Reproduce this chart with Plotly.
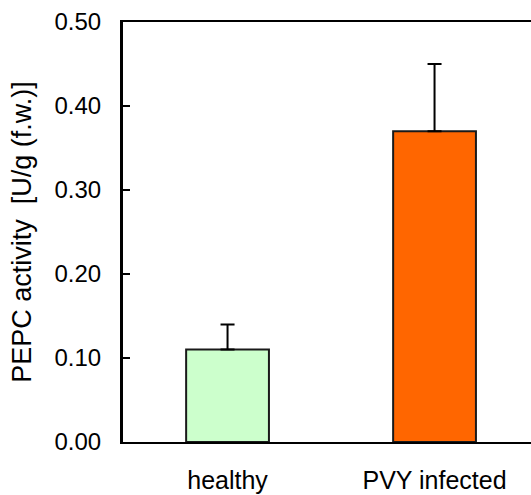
import plotly.graph_objects as go

# PEPC activity per leaf sample group
groups = ["healthy", "PVY infected"]
activity = [0.11, 0.37]
activity_err = [0.03, 0.08]
bar_colors = ["#CCFFCC", "#FF6600"]

y_ticks = [0.0, 0.1, 0.2, 0.3, 0.4, 0.5]
y_tick_text = ["0.00", "0.10", "0.20", "0.30", "0.40", "0.50"]

fig = go.Figure()
for name, val, err, col in zip(groups, activity, activity_err, bar_colors):
    fig.add_trace(go.Bar(
        x=[name], y=[val],
        width=0.4,
        marker=dict(color=col, line=dict(color="#1a1a1a", width=2)),
        error_y=dict(type="data", symmetric=False, array=[err], arrayminus=[0],
                     color="black", thickness=2, width=7),
        showlegend=False,
    ))

font_family = "Liberation Sans, Arial, sans-serif"

fig.update_layout(
    width=531, height=495,
    margin=dict(l=123, r=0, t=22, b=53),
    paper_bgcolor="white", plot_bgcolor="white",
    font=dict(family=font_family, color="black"),
    xaxis=dict(
        type="category",
        categoryorder="array", categoryarray=groups,
        range=[-0.505, 1.466],
        showline=True, linecolor="black", linewidth=2, mirror=True,
        ticks="", showgrid=False, zeroline=False,
        tickfont=dict(size=25, family=font_family),
        ticklabelstandoff=15,
    ),
    yaxis=dict(
        range=[0, 0.5],
        tickvals=y_ticks, ticktext=y_tick_text,
        ticks="inside", ticklen=7, tickwidth=2, tickcolor="black",
        showline=True, linecolor="black", linewidth=3,
        showgrid=False, zeroline=False,
        tickfont=dict(size=24, family=font_family),
        ticklabelstandoff=14,
        title=dict(text="PEPC activity  [U/g (f.w.)]",
                   font=dict(size=27, family=font_family), standoff=16),
    ),
    bargap=0.6,
)

fig.write_html("out.html")
